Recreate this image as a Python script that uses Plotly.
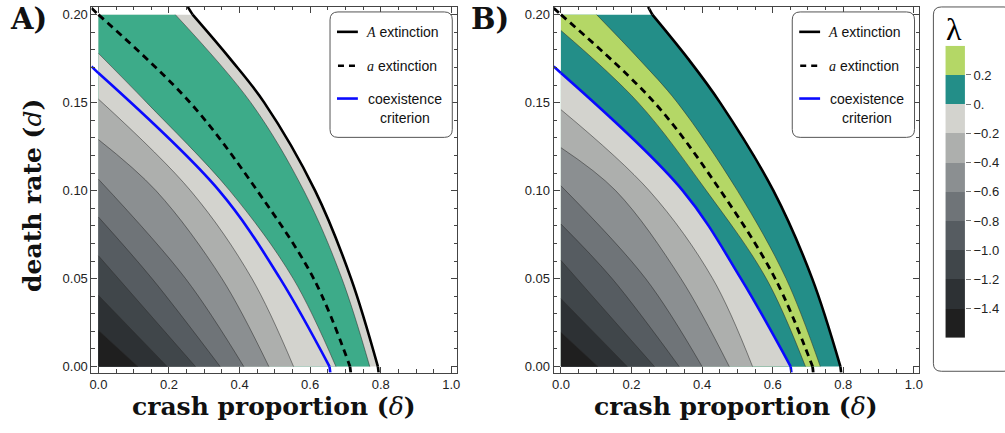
import plotly.graph_objects as go

W, H = 1005, 433

# ---------------- data: points (delta, d) ----------------
# Panel A
A_black_delta = [0.253, 0.267, 0.373, 0.470, 0.614, 0.716, 0.792, 0.794]
A_black_d     = [0.2044, 0.200, 0.175, 0.150, 0.100, 0.050, 0.000, -0.0034]
A_c1_delta = [0.218, 0.432, 0.582, 0.690, 0.769]
A_c1_d     = [0.200, 0.150, 0.100, 0.050, 0.000]
A_dash_delta = [-0.0197, 0.000, 0.260, 0.450, 0.610, 0.713, 0.715]
A_dash_d     = [0.2037, 0.200, 0.150, 0.100, 0.050, 0.000, -0.0034]
A_c2_delta = [0.000, 0.137, 0.372, 0.552, 0.673]
A_c2_d     = [0.178, 0.150, 0.100, 0.050, 0.000]
A_blue_delta = [-0.0197, 0.000, 0.342, 0.515, 0.655, 0.657]
A_blue_d     = [0.1706, 0.1668, 0.100, 0.050, 0.000, -0.0034]
A_c3_delta = [0.000, 0.261, 0.435, 0.553]
A_c3_d     = [0.152, 0.100, 0.050, 0.000]
A_c4_delta = [0.000, 0.163, 0.350, 0.483]
A_c4_d     = [0.129, 0.100, 0.050, 0.000]
A_c5_delta = [0.000, 0.247, 0.412]
A_c5_d     = [0.1065, 0.050, 0.000]
A_c6_delta = [0.000, 0.152, 0.345]
A_c6_d     = [0.085, 0.050, 0.000]
A_c7_delta = [0.000, 0.275]
A_c7_d     = [0.063, 0.000]
A_c8_delta = [0.000, 0.195]
A_c8_d     = [0.0405, 0.000]
A_c9_delta = [0.000, 0.112]
A_c9_d     = [0.0207, 0.000]

# Panel B
B_black_delta = [0.247, 0.259, 0.360, 0.451, 0.602, 0.712, 0.792, 0.794]
B_black_d     = [0.2044, 0.200, 0.175, 0.150, 0.100, 0.050, 0.000, -0.0034]
B_gout_delta = [0.101, 0.220, 0.330, 0.500, 0.638, 0.735]
B_gout_d     = [0.200, 0.175, 0.150, 0.100, 0.050, 0.000]
B_dash_delta = [-0.0206, 0.000, 0.265, 0.452, 0.607, 0.713, 0.715]
B_dash_d     = [0.2037, 0.200, 0.150, 0.100, 0.050, 0.000, -0.0034]
B_gin_delta = [0.000, 0.219, 0.412, 0.582, 0.693]
B_gin_d     = [0.191, 0.150, 0.100, 0.050, 0.000]
B_blue_delta = [-0.0206, 0.000, 0.345, 0.510, 0.651, 0.653]
B_blue_d     = [0.1706, 0.1668, 0.100, 0.050, 0.000, -0.0034]
B_c3_delta = [0.000, 0.250, 0.430, 0.543]
B_c3_d     = [0.146, 0.100, 0.050, 0.000]
B_c4_delta = [0.000, 0.155, 0.340, 0.477]
B_c4_d     = [0.1244, 0.100, 0.050, 0.000]
B_c5_delta = [0.000, 0.240, 0.400]
B_c5_d     = [0.1027, 0.050, 0.000]
B_c6_delta = [0.000, 0.145, 0.335]
B_c6_d     = [0.081, 0.050, 0.000]
B_c7_delta = [0.000, 0.265]
B_c7_d     = [0.0603, 0.000]
B_c8_delta = [0.000, 0.188]
B_c8_d     = [0.0386, 0.000]
B_c9_delta = [0.000, 0.105]
B_c9_d     = [0.0195, 0.000]

# contour levels of lambda and their colours (lowest -> highest)
LEVEL_EDGES = [-1.6, -1.4, -1.2, -1.0, -0.8, -0.6, -0.4, -0.2, 0.0, 0.2, 0.4]
LEVEL_COLORS = ["#1f1f1f", "#2d3134", "#40464a", "#565c61", "#6f7478",
                "#8b8f91", "#adafad", "#d3d3ce", "#238e88", "#b4d766"]
TICK_VALUES = [-1.4, -1.2, -1.0, -0.8, -0.6, -0.4, -0.2, 0.0, 0.2]
TICK_TEXT = ["\u22121.4", "\u22121.2", "\u22121.0", "\u22120.8", "\u22120.6",
             "\u22120.4", "\u22120.2", "0.", "0.2"]
A_GREEN = "#3dab89"

D_MAX = 0.2
EPS = 1e-9


def X(p):
    return p / W


def Y(p):
    return 1 - p / H


def inside(dl, dd):
    return [(a, b) for a, b in zip(dl, dd) if -EPS <= b <= D_MAX + EPS and a >= -EPS]


fig = go.Figure()
EDGE = "rgba(45,45,45,0.75)"


def add_region(dl, dd, color, xa, ya, edge=True):
    pts = inside(dl, dd)
    start, end = pts[0], pts[-1]
    base = [start]
    if start[1] >= D_MAX - EPS and start[0] > EPS:
        base.append((0.0, D_MAX))
    base += [(0.0, 0.0), end]
    fig.add_trace(go.Scatter(x=[p[0] for p in base], y=[p[1] for p in base], mode="lines",
                             line=dict(width=0), hoverinfo="skip", showlegend=False,
                             xaxis=xa, yaxis=ya))
    fig.add_trace(go.Scatter(x=[p[0] for p in pts], y=[p[1] for p in pts], mode="lines",
                             line=dict(shape="spline", color=EDGE if edge else "rgba(0,0,0,0)", width=0.7),
                             fill="tonexty", fillcolor=color, hoverinfo="skip",
                             showlegend=False, xaxis=xa, yaxis=ya))


def add_curve(dl, dd, xa, ya, **line):
    all_pts = list(zip(dl, dd))
    pts = inside(dl, dd)
    i0 = all_pts.index(pts[0])
    i1 = all_pts.index(pts[-1])
    pieces = [(pts, "spline")]
    if i0 > 0:
        pieces.append((all_pts[:i0 + 1], "linear"))
    if i1 < len(all_pts) - 1:
        pieces.append((all_pts[i1:], "linear"))
    for seg, shp in pieces:
        fig.add_trace(go.Scatter(x=[p[0] for p in seg], y=[p[1] for p in seg], mode="lines",
                                 line=dict(shape=shp, **line), hoverinfo="skip", showlegend=False,
                                 xaxis=xa, yaxis=ya))


A_regions = [
    (A_black_delta, A_black_d, LEVEL_COLORS[7], False),
    (A_c1_delta, A_c1_d, A_GREEN, True),
    (A_c2_delta, A_c2_d, LEVEL_COLORS[7], True),
    (A_c3_delta, A_c3_d, LEVEL_COLORS[6], True),
    (A_c4_delta, A_c4_d, LEVEL_COLORS[5], True),
    (A_c5_delta, A_c5_d, LEVEL_COLORS[4], True),
    (A_c6_delta, A_c6_d, LEVEL_COLORS[3], True),
    (A_c7_delta, A_c7_d, LEVEL_COLORS[2], True),
    (A_c8_delta, A_c8_d, LEVEL_COLORS[1], True),
    (A_c9_delta, A_c9_d, LEVEL_COLORS[0], True),
]
B_regions = [
    (B_black_delta, B_black_d, LEVEL_COLORS[8], False),
    (B_gout_delta, B_gout_d, LEVEL_COLORS[9], True),
    (B_gin_delta, B_gin_d, LEVEL_COLORS[8], True),
    (B_blue_delta, B_blue_d, LEVEL_COLORS[7], True),
    (B_c3_delta, B_c3_d, LEVEL_COLORS[6], True),
    (B_c4_delta, B_c4_d, LEVEL_COLORS[5], True),
    (B_c5_delta, B_c5_d, LEVEL_COLORS[4], True),
    (B_c6_delta, B_c6_d, LEVEL_COLORS[3], True),
    (B_c7_delta, B_c7_d, LEVEL_COLORS[2], True),
    (B_c8_delta, B_c8_d, LEVEL_COLORS[1], True),
    (B_c9_delta, B_c9_d, LEVEL_COLORS[0], True),
]

for dl, dd, c, e in A_regions:
    add_region(dl, dd, c, "x", "y", e)
for dl, dd, c, e in B_regions:
    add_region(dl, dd, c, "x2", "y2", e)

# thick curves
for xa, ya, bl, bd, dsl, dsd, bul, bud in [
        ("x", "y", A_black_delta, A_black_d, A_dash_delta, A_dash_d, A_blue_delta, A_blue_d),
        ("x2", "y2", B_black_delta, B_black_d, B_dash_delta, B_dash_d, B_blue_delta, B_blue_d)]:
    add_curve(bul, bud, xa, ya, color="#0a0aff", width=2.6)
    add_curve(dsl, dsd, xa, ya, color="black", width=2.8, dash="7px,5px")
    add_curve(bl, bd, xa, ya, color="black", width=2.6)

# colour bar as a heatmap on its own axes
mids = [(LEVEL_EDGES[i] + LEVEL_EDGES[i + 1]) / 2 for i in range(len(LEVEL_COLORS))]
cs = []
n = len(LEVEL_COLORS)
for i, c in enumerate(LEVEL_COLORS):
    cs += [[i / n, c], [(i + 1) / n, c]]
fig.add_trace(go.Heatmap(x=[0.5], y=mids, z=[[i] for i in range(n)], colorscale=cs,
                         zmin=-0.5, zmax=n - 0.5, showscale=False, hoverinfo="skip",
                         xaxis="x3", yaxis="y3"))

tickfont = dict(family="Liberation Sans", size=13, color="#222")
common = dict(showline=True, linecolor="#444", linewidth=1, mirror="allticks", ticks="inside",
              ticklen=6, tickwidth=1, tickcolor="#444", showgrid=False, zeroline=False,
              tickfont=tickfont, fixedrange=True)

xcommon = dict(common, tick0=0, dtick=0.2, tickformat=".1f",
               minor=dict(dtick=0.05, tick0=0, ticks="inside", ticklen=3.5, tickcolor="#444", showgrid=False))
ycommon = dict(common, tick0=0, dtick=0.05, tickformat=".2f",
               minor=dict(dtick=0.01, tick0=0, ticks="inside", ticklen=3.5, tickcolor="#444", showgrid=False))

fig.update_layout(
    width=W, height=H, margin=dict(l=0, r=0, t=0, b=0),
    paper_bgcolor="white", plot_bgcolor="white",
    xaxis=dict(xcommon, domain=[X(90), X(458)], range=[-0.0197, 1.0169], anchor="y"),
    yaxis=dict(ycommon, domain=[Y(374.3), Y(7)], range=[-0.0034, 0.20436], anchor="x"),
    xaxis2=dict(xcommon, domain=[X(555), X(922.7)], range=[-0.0206, 1.0152], anchor="y2"),
    yaxis2=dict(ycommon, domain=[Y(374.3), Y(7)], range=[-0.0034, 0.20436], anchor="x2"),
    xaxis3=dict(domain=[X(949), X(968.7)], range=[0, 1], anchor="y3", visible=False, fixedrange=True),
    yaxis3=dict(domain=[Y(339.3), Y(46)], range=[LEVEL_EDGES[0], LEVEL_EDGES[-1]], anchor="x3",
                side="right", tickvals=TICK_VALUES, ticktext=TICK_TEXT, ticks="outside",
                ticklen=5, tickcolor="#777", showline=False, showgrid=False, zeroline=False,
                tickfont=tickfont, fixedrange=True),
    showlegend=False,
)


def rrect(x0, y0, x1, y1, r):
    return (f"M {X(x0 + r)},{Y(y0)} L {X(x1 - r)},{Y(y0)} Q {X(x1)},{Y(y0)} {X(x1)},{Y(y0 + r)} "
            f"L {X(x1)},{Y(y1 - r)} Q {X(x1)},{Y(y1)} {X(x1 - r)},{Y(y1)} "
            f"L {X(x0 + r)},{Y(y1)} Q {X(x0)},{Y(y1)} {X(x0)},{Y(y1 - r)} "
            f"L {X(x0)},{Y(y0 + r)} Q {X(x0)},{Y(y0)} {X(x0 + r)},{Y(y0)} Z")


shapes = []
annotations = []
legfont = dict(family="Liberation Sans", size=14, color="#111")
SERIF_I = "<span style='font-family:Liberation Serif'><i>{}</i></span>"
for off in (0, 465):
    shapes.append(dict(type="path", path=rrect(330 + off, 12, 453 + off, 138, 8), xref="paper", yref="paper",
                       line=dict(color="#555", width=1), fillcolor="white", layer="above"))
    shapes.append(dict(type="line", x0=X(337 + off), x1=X(358 + off), y0=Y(32), y1=Y(32), xref="paper",
                       yref="paper", line=dict(color="black", width=2.6), layer="above"))
    shapes.append(dict(type="line", x0=X(338 + off), x1=X(357 + off), y0=Y(66), y1=Y(66), xref="paper",
                       yref="paper", line=dict(color="black", width=2.6, dash="6px,5px"), layer="above"))
    shapes.append(dict(type="line", x0=X(337 + off), x1=X(358 + off), y0=Y(99), y1=Y(99), xref="paper",
                       yref="paper", line=dict(color="#0a0aff", width=2.6), layer="above"))
    for txt, yy, xx, anc in [(SERIF_I.format("A") + " extinction", 32, 364, "left"),
                             (SERIF_I.format("a") + " extinction", 66, 365, "left"),
                             ("coexistence", 99, 366, "left"),
                             ("criterion", 118.5, 405, "center")]:
        annotations.append(dict(text=txt, x=X(xx + off), y=Y(yy), xref="paper", yref="paper",
                                xanchor=anc, yanchor="middle", showarrow=False, font=legfont))

# colour bar frame and title
shapes.append(dict(type="path", path=rrect(937, 7, 1016, 373, 8), xref="paper", yref="paper",
                   line=dict(color="#555", width=1), fillcolor="rgba(0,0,0,0)", layer="above"))
annotations.append(dict(text="\u03bb", x=X(958), y=Y(29), xref="paper", yref="paper", xanchor="center",
                        yanchor="middle", showarrow=False,
                        font=dict(family="Liberation Serif", size=32, color="black")))

# panel labels and axis titles
titlefont = dict(family="DejaVu Serif", size=25, color="#111")
for lab, xx in (("A)", 6), ("B)", 470)):
    annotations.append(dict(text=f"<b>{lab}</b>", x=X(xx), y=Y(19), xref="paper", yref="paper",
                            xanchor="left", yanchor="middle", showarrow=False,
                            font=dict(family="DejaVu Serif", size=29, color="#111")))
for cx in ((90 + 458) / 2, (555 + 922.7) / 2):
    annotations.append(dict(text="<b>crash proportion (</b><i>\u03b4</i><b>)</b>", x=X(cx), y=Y(408),
                            xref="paper", yref="paper", xanchor="center", yanchor="middle",
                            showarrow=False, font=titlefont))
annotations.append(dict(text="<b>death rate (</b><i>d</i><b>)</b>", x=X(30), y=Y(196), xref="paper",
                        yref="paper", xanchor="center", yanchor="middle", textangle=-90,
                        showarrow=False, font=titlefont))

fig.update_layout(shapes=shapes, annotations=annotations)
fig.write_html("out.html")
